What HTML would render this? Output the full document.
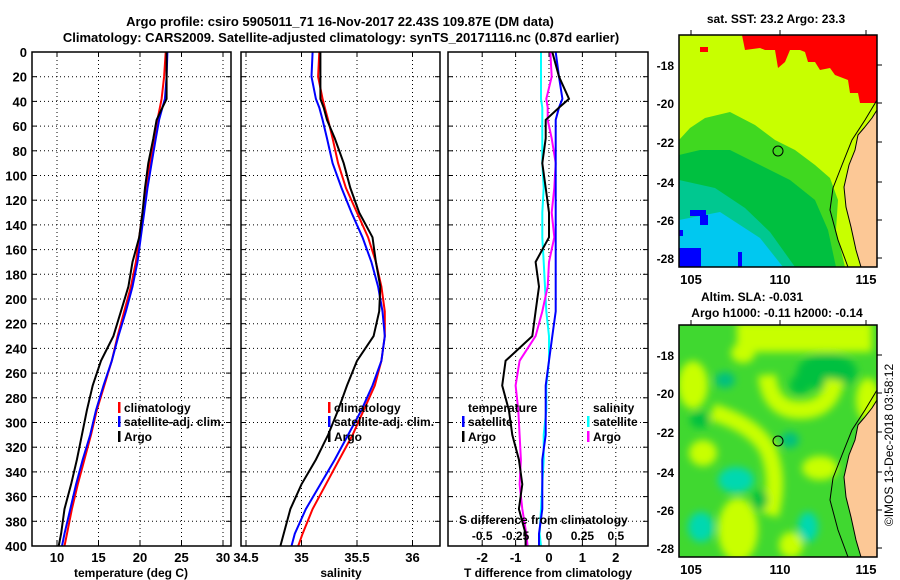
<!DOCTYPE html>
<html><head><meta charset="utf-8">
<style>
html,body{margin:0;padding:0;background:#fff;}
svg{display:block;font-family:"Liberation Sans",Arial,sans-serif;font-weight:bold;}
</style></head>
<body>
<svg id="c" width="900" height="580" viewBox="0 0 900 580" xmlns="http://www.w3.org/2000/svg">
<defs>
<filter id="blur" x="-50%" y="-50%" width="200%" height="200%"><feGaussianBlur stdDeviation="4"/></filter>
<clipPath id="clipTop"><rect x="679" y="35" width="198" height="232"/></clipPath>
<clipPath id="clipBot"><rect x="679" y="325" width="198" height="232"/></clipPath>
<clipPath id="cp1"><rect x="32" y="52" width="199" height="494"/></clipPath>
<clipPath id="cp2"><rect x="241" y="52" width="199" height="494"/></clipPath>
<clipPath id="cp3"><rect x="448" y="52" width="200" height="494"/></clipPath>
</defs>
<text x="340" y="26" text-anchor="middle" font-size="13">Argo profile: csiro 5905011_71 16-Nov-2017 22.43S 109.87E (DM data)</text>
<text x="341" y="42" text-anchor="middle" font-size="13">Climatology: CARS2009. Satellite-adjusted climatology: synTS_20171116.nc (0.87d earlier)</text>

<g id="maps">
 <text x="776" y="23" text-anchor="middle" font-size="12">sat. SST: 23.2 Argo: 23.3</text>
 <g clip-path="url(#clipTop)">
  <rect x="679" y="35" width="198" height="232" fill="#c8ff00"/>
  <polygon fill="#ff0000" points="742,35 877,35 877,103 860,103 858,93 850,93 848,80 835,75 830,68 820,70 815,62 808,62 805,52 800,50 790,50 785,62 778,68 775,50 765,50 760,48 745,50"/>
  <polygon fill="#ff0000" points="700,47 708,47 708,52 700,52"/>
  <polygon fill="#40d820" points="679,140 690,128 705,118 730,112 755,125 775,140 795,150 815,165 830,178 838,200 836,230 845,267 780,267 760,225 735,205 705,188 679,180"/>
  <polygon fill="#00c040" points="679,155 700,150 730,150 760,165 790,180 815,200 828,230 836,267 790,267 770,235 740,215 710,198 679,190"/>
  <polygon fill="#00c890" points="679,180 715,188 745,208 770,232 795,267 679,267"/>
  <polygon fill="#00c8f0" points="679,220 720,212 760,238 783,267 679,267"/>
  <rect x="679" y="248" width="22" height="19" fill="#0000ff"/>
  <rect x="690" y="210" width="16" height="6" fill="#0000ff"/>
  <rect x="700" y="215" width="8" height="10" fill="#0000ff"/>
  <rect x="679" y="230" width="4" height="6" fill="#0000ff"/>
  <rect x="738" y="252" width="4" height="15" fill="#0000ff"/>
  <polygon fill="#fcc896" stroke="#000" stroke-width="1" points="877,110 872,118 864,128 858,135 855,150 849,165 844,187 846,207 851,227 856,250 861,267 877,267"/>
  <polyline fill="none" stroke="#000" stroke-width="1" points="877,100 865,120 852,140 842,165 833,188 830,210 838,240 848,267"/>
  <circle cx="778" cy="151" r="5" fill="none" stroke="#000" stroke-width="1"/>
 </g>
 <rect x="679" y="35" width="198" height="232" fill="none" stroke="#000" stroke-width="1.5"/>

 <text x="752" y="301" text-anchor="middle" font-size="12">Altim. SLA: -0.031</text>
 <text x="777" y="317" text-anchor="middle" font-size="12">Argo h1000: -0.11 h2000: -0.14</text>
 <g clip-path="url(#clipBot)">
  <rect x="679" y="325" width="198" height="232" fill="#40d830"/>
  <g filter="url(#blur)">
   <rect x="737" y="322" width="135" height="30" fill="#c8ff00"/>
   <ellipse cx="827" cy="372" rx="30" ry="18" fill="#00c040"/>
   <ellipse cx="693" cy="385" rx="15" ry="24" fill="#c8ff00"/>
   <ellipse cx="743" cy="353" rx="12" ry="10" fill="#c8ff00"/>
   <path d="M767,375 Q770,410 800,410 Q830,410 835,380" fill="none" stroke="#c8ff00" stroke-width="18"/>
   <ellipse cx="800" cy="385" rx="10" ry="10" fill="#00c040"/>
   <path d="M712,412 Q755,425 768,450 Q780,480 770,515" fill="none" stroke="#c8ff00" stroke-width="17"/>
   <ellipse cx="703" cy="453" rx="14" ry="13" fill="#c8ff00"/>
   <ellipse cx="738" cy="530" rx="20" ry="32" fill="#c8ff00"/>
   <ellipse cx="820" cy="468" rx="18" ry="12" fill="#c8ff00"/>
   <ellipse cx="791" cy="545" rx="12" ry="13" fill="#c8ff00"/>
   <ellipse cx="868" cy="400" rx="12" ry="22" fill="#c8ff00"/>
   <ellipse cx="736" cy="480" rx="18" ry="13" fill="#00d8b0"/>
   <ellipse cx="701" cy="527" rx="13" ry="15" fill="#00d8b0"/>
   <ellipse cx="808" cy="527" rx="10" ry="15" fill="#00d8b0"/>
   <ellipse cx="725" cy="380" rx="10" ry="8" fill="#00c080"/>
   <ellipse cx="790" cy="440" rx="9" ry="8" fill="#00c080"/>
   <ellipse cx="700" cy="420" rx="10" ry="8" fill="#00c040"/>
   <ellipse cx="760" cy="500" rx="8" ry="10" fill="#00c040"/>
  </g>
  <polygon fill="#fcc896" stroke="#000" stroke-width="1" points="877,400 872,408 864,418 858,425 855,440 849,455 844,477 846,497 851,517 856,540 861,557 877,557"/>
  <polyline fill="none" stroke="#000" stroke-width="1" points="877,390 865,410 852,430 842,455 833,478 830,500 838,530 848,557"/>
  <circle cx="778" cy="441" r="5" fill="none" stroke="#000" stroke-width="1"/>
 </g>
 <rect x="679" y="325" width="198" height="232" fill="none" stroke="#000" stroke-width="1.5"/>
 <text transform="translate(893,445) rotate(-90)" text-anchor="middle" font-size="12" font-weight="normal">©IMOS 13-Dec-2018 03:58:12</text>
</g>

<g id="plots"></g>
</svg>
<script>
// Shared depth levels (m)
const depths = [0,20,38,45,55,70,90,110,130,150,170,190,210,230,250,270,290,310,330,350,370,390,400];
// Temperature (deg C)
const tempClim = [23.1,22.9,22.6,22.4,22.1,21.7,21.2,20.7,20.3,19.9,19.5,18.9,18.1,17.3,16.6,15.7,14.8,14.1,13.3,12.5,11.8,11.2,10.9];
const tempSat  = [23.3,23.2,23.0,22.7,22.3,21.9,21.4,20.9,20.5,20.1,19.7,19.1,18.3,17.4,16.6,15.6,14.7,14.0,13.1,12.3,11.6,10.9,10.6];
const tempArgo = [23.2,23.2,23.2,22.7,22.0,21.6,21.0,20.6,20.3,19.9,19.1,18.6,17.7,16.8,15.3,14.3,13.6,13.0,12.4,11.7,10.9,10.5,10.2];
// Salinity
const salClim = [35.16,35.15,35.19,35.21,35.24,35.28,35.33,35.40,35.50,35.60,35.67,35.72,35.75,35.75,35.72,35.66,35.56,35.46,35.34,35.22,35.10,35.01,34.97];
const salSat  = [35.10,35.09,35.13,35.16,35.19,35.23,35.28,35.36,35.45,35.55,35.63,35.69,35.73,35.75,35.72,35.64,35.54,35.42,35.30,35.17,35.04,34.94,34.91];
const salArgo = [35.17,35.17,35.17,35.20,35.23,35.30,35.38,35.44,35.52,35.64,35.67,35.71,35.70,35.65,35.50,35.41,35.33,35.24,35.13,35.00,34.90,34.84,34.81];
// Tick labels
const depthTicks = [0,20,40,60,80,100,120,140,160,180,200,220,240,260,280,300,320,340,360,380,400];
const tempTicks = [10,15,20,25,30];
const salTicks = [34.5,35,35.5,36];
const tdiffTicks = [-2,-1,0,1,2];
const sdiffTicks = [-0.5,-0.25,0,0.25,0.5];
const sdiffLabels = ["-0.5","-0.25","0","0.25","0.5"];

const NS="http://www.w3.org/2000/svg";
const root=document.getElementById('plots');
function el(tag,attrs,parent){const e=document.createElementNS(NS,tag);for(const k in attrs)e.setAttribute(k,attrs[k]);(parent||root).appendChild(e);return e;}
function txt(s,x,y,anchor,size,parent){const t=el('text',{x:x,y:y,'text-anchor':anchor,'font-size':size},parent);t.textContent=s;return t;}

const Y=d=>52+d*(494/400);
const xT=t=>57+8.3*(t-10);
const xS=s=>301.5+111*(s-35);
const xD=v=>549+33.4*v;
const xSD=v=>549+33.4*4*v;

function panel(x0,w,name){
  const g=el('g',{});
  
  
  el('rect',{x:x0,y:52,width:w,height:494,fill:'#fff'},g);
  depthTicks.forEach(d=>{ if(d>0&&d<400){el('line',{x1:x0,x2:x0+w,y1:Y(d),y2:Y(d),stroke:'#000','stroke-width':1,'stroke-dasharray':'1,3'},g);
    el('line',{x1:x0,x2:x0+5,y1:Y(d),y2:Y(d),stroke:'#000'},g);el('line',{x1:x0+w-5,x2:x0+w,y1:Y(d),y2:Y(d),stroke:'#000'},g);} });
  return g;
}
function vgrid(g,xs){xs.forEach(x=>{el('line',{x1:x,x2:x,y1:52,y2:546,stroke:'#000','stroke-dasharray':'1,3'},g);el('line',{x1:x,x2:x,y1:541,y2:546,stroke:'#000'},g);el('line',{x1:x,x2:x,y1:52,y2:57,stroke:'#000'},g);});}
function series(g,xs,color,name,clip){
  const pts=depths.map((d,i)=>xs[i].toFixed(1)+','+Y(d).toFixed(1)).join(' ');
  const p=el('polyline',{points:pts,fill:'none',stroke:color,'stroke-width':2,'clip-path':'url(#'+clip+')'},g);
  
  
}
function frame(g,x0,w){el('rect',{x:x0,y:52,width:w,height:494,fill:'none',stroke:'#000','stroke-width':1.5},g);}
function legendEntry(g,x,y,color,label,name){
  const lg=el('g',{},g);
  
  
  el('rect',{x:x,y:y-10,width:2.5,height:11,fill:color},lg);
  txt(label,x+6,y,'start',12,lg);
}

// Depth axis labels
const ya=el('g',{});


depthTicks.forEach(d=>txt(String(d),27,Y(d)+5,'end',13,ya));

// Panel 1 temperature
const p1=panel(32,199,'temperature-panel');
vgrid(p1,tempTicks.map(xT));
series(p1,tempClim.map(xT),'#ff0000','temp-climatology-line','cp1');
series(p1,tempSat.map(xT),'#0000ff','temp-satellite-line','cp1');
series(p1,tempArgo.map(xT),'#000000','temp-argo-line','cp1');
frame(p1,32,199);
tempTicks.forEach(t=>txt(String(t),xT(t),562,'middle',13,p1));
txt('temperature (deg C)',131,577,'middle',12,p1);
legendEntry(p1,118,412,'#ff0000','climatology','legend-climatology');
legendEntry(p1,118,426,'#0000ff','satellite-adj. clim.','legend-satellite');
legendEntry(p1,118,441,'#000000','Argo','legend-argo');

// Panel 2 salinity
const p2=panel(241,199,'salinity-panel');
vgrid(p2,salTicks.map(xS));
series(p2,salClim.map(xS),'#ff0000','sal-climatology-line','cp2');
series(p2,salSat.map(xS),'#0000ff','sal-satellite-line','cp2');
series(p2,salArgo.map(xS),'#000000','sal-argo-line','cp2');
frame(p2,241,199);
salTicks.forEach(s=>txt(String(s),xS(s),562,'middle',13,p2));
txt('salinity',341,577,'middle',12,p2);
legendEntry(p2,328,412,'#ff0000','climatology','legend-climatology-s');
legendEntry(p2,328,426,'#0000ff','satellite-adj. clim.','legend-satellite-s');
legendEntry(p2,328,441,'#000000','Argo','legend-argo-s');

// Panel 3 differences (computed from the profile arrays)
const p3=panel(448,200,'difference-panel');
vgrid(p3,tdiffTicks.map(xD));
series(p3,salSat.map((v,i)=>xSD(v-salClim[i])),'#00ffff','sdiff-satellite-line','cp3');
series(p3,salArgo.map((v,i)=>xSD(v-salClim[i])),'#ff00ff','sdiff-argo-line','cp3');
series(p3,tempSat.map((v,i)=>xD(v-tempClim[i])),'#0000ff','tdiff-satellite-line','cp3');
series(p3,tempArgo.map((v,i)=>xD(v-tempClim[i])),'#000000','tdiff-argo-line','cp3');
frame(p3,448,200);
tdiffTicks.forEach(t=>txt(String(t),xD(t),562,'middle',13,p3));
txt('T difference from climatology',548,577,'middle',12,p3);
txt('S difference from climatology',459,524,'start',12,p3);
sdiffTicks.forEach((s,i)=>txt(sdiffLabels[i],xSD(s),540,'middle',12,p3));
txt('temperature',468,412,'start',12,p3);
txt('salinity',593,412,'start',12,p3);
legendEntry(p3,462,426,'#0000ff','satellite','legend-tdiff-satellite');
legendEntry(p3,462,441,'#000000','Argo','legend-tdiff-argo');
legendEntry(p3,587,426,'#00ffff','satellite','legend-sdiff-satellite');
legendEntry(p3,587,441,'#ff00ff','Argo','legend-sdiff-argo');

// Map axes labels
const lats=['-18','-20','-22','-24','-26','-28'];
const topLatY=[65,103,142,182,220,258];
const botLatY=[355,393,432,472,510,548];
const lonLabels=['105','110','115'];
const lonX=[691,780,866];
const ma=el('g',{});


lats.forEach((l,i)=>{txt(l,674,topLatY[i]+5,'end',12,ma);txt(l,674,botLatY[i]+5,'end',12,ma);
  el('line',{x1:877,x2:882,y1:topLatY[i],y2:topLatY[i],stroke:'#000'},ma);el('line',{x1:877,x2:882,y1:botLatY[i],y2:botLatY[i],stroke:'#000'},ma);});
lonLabels.forEach((l,i)=>{txt(l,lonX[i],284,'middle',13,ma);txt(l,lonX[i],574,'middle',13,ma);
  el('line',{x1:lonX[i],x2:lonX[i],y1:30,y2:35,stroke:'#000'},ma);el('line',{x1:lonX[i],x2:lonX[i],y1:320,y2:325,stroke:'#000'},ma);});
</script>
</body></html>
